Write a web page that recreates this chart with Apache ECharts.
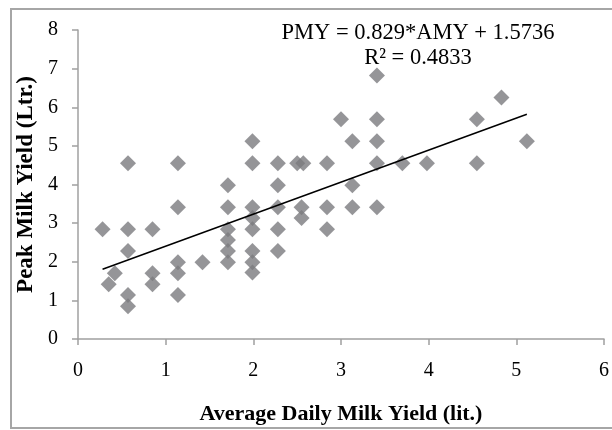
<!DOCTYPE html>
<html><head><meta charset="utf-8">
<script src="https://cdn.jsdelivr.net/npm/echarts@6/dist/echarts.min.js"></script>
<style>html,body{margin:0;padding:0;background:#fff}#c{width:612px;height:430px}</style>
</head><body><div id="c"></div>
<script>
// Average daily milk yield (lit.) and peak milk yield (Ltr.)
const amy = [0.28,0.35,0.42,0.57,0.57,0.57,0.57,0.57,0.85,0.85,0.85,1.14,1.14,1.14,1.14,1.14,1.42,
  1.71,1.71,1.71,1.71,1.71,1.71,1.99,1.99,1.99,1.99,1.99,1.99,1.99,1.99,2.28,2.28,2.28,2.28,2.28,
  2.50,2.57,2.55,2.55,2.84,2.84,2.84,3.00,3.13,3.13,3.13,3.41,3.41,3.41,3.41,3.41,3.70,3.98,4.55,4.55,4.83,5.12];
const pmy = [2.84,1.42,1.70,4.55,2.84,2.28,1.14,0.85,2.84,1.70,1.42,4.55,3.41,1.99,1.70,1.14,1.99,
  3.98,3.41,2.84,2.56,2.28,1.99,5.12,4.55,3.41,3.13,2.84,2.28,1.99,1.72,4.55,3.98,3.41,2.84,2.28,
  4.55,4.55,3.41,3.13,4.55,3.41,2.84,5.69,5.12,3.98,3.41,6.82,5.69,5.12,4.55,3.41,4.55,4.55,5.69,4.55,6.25,5.12];
const slope = 0.829, intercept = 1.5736, r2 = 0.4833;
const xTicks = [0,1,2,3,4,5,6];
const yTicks = [0,1,2,3,4,5,6,7,8];

const pts = amy.map((x,i)=>[x,pmy[i]]);
const xMin = Math.min(...amy), xMax = Math.max(...amy);
const trend = [[xMin, slope*xMin+intercept],[xMax, slope*xMax+intercept]];

const chart = echarts.init(document.getElementById('c'));
const serif = '"Liberation Serif","Times New Roman",serif';
const axisCol = '#a0a0a0';
chart.setOption({
  animation:false,
  backgroundColor:'#fff',
  grid:{left:78, top:30, right:8, bottom:90, containLabel:false},
  xAxis:{type:'value', min:xTicks[0], max:xTicks[xTicks.length-1], interval:1,
    name:'Average Daily Milk Yield (lit.)', nameLocation:'middle', nameGap:64,
    nameTextStyle:{fontFamily:serif, fontWeight:'bold', fontSize:22, color:'#000'},
    axisLine:{show:true, onZero:false, lineStyle:{color:axisCol, width:1.5}},
    axisTick:{show:true, length:6, lineStyle:{color:axisCol, width:1.5}},
    axisLabel:{fontFamily:serif, fontSize:20, color:'#000', margin:22},
    splitLine:{show:false}},
  yAxis:{type:'value', min:yTicks[0], max:yTicks[yTicks.length-1], interval:1,
    name:'Peak Milk Yield (Ltr.)', nameLocation:'middle', nameGap:32,
    nameTextStyle:{fontFamily:serif, fontWeight:'bold', fontSize:23, color:'#000'},
    axisLine:{show:true, lineStyle:{color:axisCol, width:1.5}},
    axisTick:{show:true, length:6, lineStyle:{color:axisCol, width:1.5}},
    axisLabel:{fontFamily:serif, fontSize:20, color:'#000', margin:20},
    splitLine:{show:false}},
  graphic:[
    {type:'rect', shape:{x:11, y:9, width:620, height:419}, style:{fill:'none', stroke:'#a6a6a6', lineWidth:2}, silent:true, z:-1},
    {type:'text', x:418, y:21, style:{text:'PMY = '+slope+'*AMY + '+intercept+'\nR² = '+r2, fontFamily:serif, fontSize:22.5, lineHeight:25, fill:'#000', align:'center', verticalAlign:'top'}, z:10}
  ],
  series:[
    {type:'scatter', data:pts, symbol:'diamond', symbolSize:[16,16], itemStyle:{color:'#7a7a7e'}, z:2},
    {type:'line', data:trend, symbol:'none', lineStyle:{color:'#000', width:1.5}, z:3}
  ]
});
</script></body></html>
